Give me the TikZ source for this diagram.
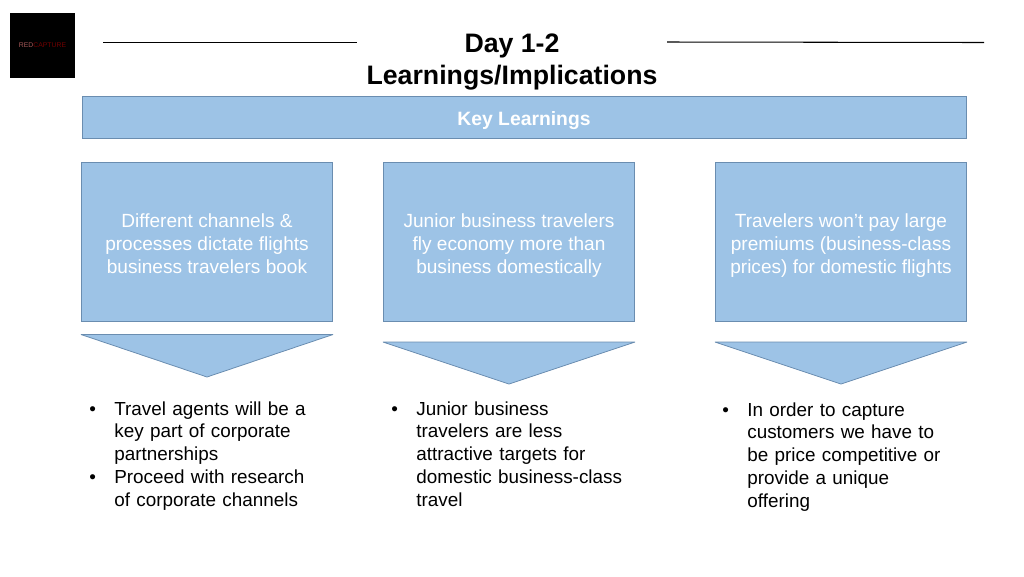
\documentclass[tikz,border=0pt]{standalone}
\usepackage{fontspec}
\setmainfont{Liberation Sans}
\definecolor{boxblue}{HTML}{9DC3E6}
\definecolor{boxline}{HTML}{6A8DB0}
\newcommand{\bul}{\makebox[.5cm][l]{•}}
\newcommand{\ind}{\hspace*{.5cm}}
\tikzset{
	bluebox/.style={draw=boxline, fill=boxblue, line width=.45pt, inner sep=0pt, align=center, text=white},
	learnbox/.style={bluebox, minimum width=5.03cm, minimum height=3.19cm, font=\fontsize{10.85}{13.1}\selectfont, text height=35.5pt, text depth=0pt},
	pointer/.style={draw=boxline, fill=boxblue, line width=.45pt, line join=bevel},
	bullets/.style={anchor=north west, inner sep=0pt, align=left, text width=5cm, font=\fontsize{10.75}{13}\selectfont},
	titleline/.style={line width=.6pt}
}
\begin{document}
\begin{tikzpicture}[x=.02cm, y=-.02cm]
	\useasboundingbox (0,0) rectangle (1024,576);
	% logo
	\node (logo) [fill=black, minimum size=1.3cm, inner sep=0pt] at (42.5,45.5) {};
	\node (logotext) [text=red!45!black, font=\fontsize{3.9}{4}\selectfont] at (logo) {\textcolor{red!30!gray}{RED}CAPTURE};
	% title
	\node (title) [align=center, font=\bfseries\fontsize{15.2}{18.2}\selectfont] at (512,62) {Day 1-2\\Learnings/Implications};
	\coordinate (la) at (103,42.5);
	\coordinate (lb) at (357,42.5);
	\coordinate (ra) at (667,42);
	\coordinate (rb) at (984,42.5);
	\draw[titleline] (la)--(lb);
	\draw[titleline] (ra)--(rb);
	% banner
	\node (keybar) [bluebox, minimum width=17.68cm, minimum height=.84cm, text height=9.2pt, text depth=0pt, font=\bfseries\fontsize{11}{13}\selectfont] at (524,117) {Key Learnings};
	% boxes
	\node (boxa) [learnbox] at (207,242) {Different channels \&\\processes dictate flights\\business travelers book};
	\node (boxb) [learnbox] at (509,242) {Junior business travelers\\fly economy more than\\business domestically};
	\node (boxc) [learnbox] at (841,242) {Travelers won’t pay large\\premiums (business-class\\prices) for domestic flights};
	% arrows
	\draw[pointer] (81,334.5)--(333,334.5)--(207,377)--cycle;
	\draw[pointer] (383,342)--(635,342)--(509,384)--cycle;
	\draw[pointer] (715,342)--(967,342)--(841,384)--cycle;
	% lists
	\node (lista) [bullets] at (89,401) {%
		\bul Travel agents will be a\\
		\ind key part of corporate\\
		\ind partnerships\\
		\bul Proceed with research\\
		\ind of corporate channels};
	\node (listb) [bullets] at (391,401) {%
		\bul Junior business\\
		\ind travelers are less\\
		\ind attractive targets for\\
		\ind domestic business-class\\
		\ind travel};
	\node (listc) [bullets] at (722,402) {%
		\bul In order to capture\\
		\ind customers we have to\\
		\ind be price competitive or\\
		\ind provide a unique\\
		\ind offering};
\end{tikzpicture}
\end{document}
